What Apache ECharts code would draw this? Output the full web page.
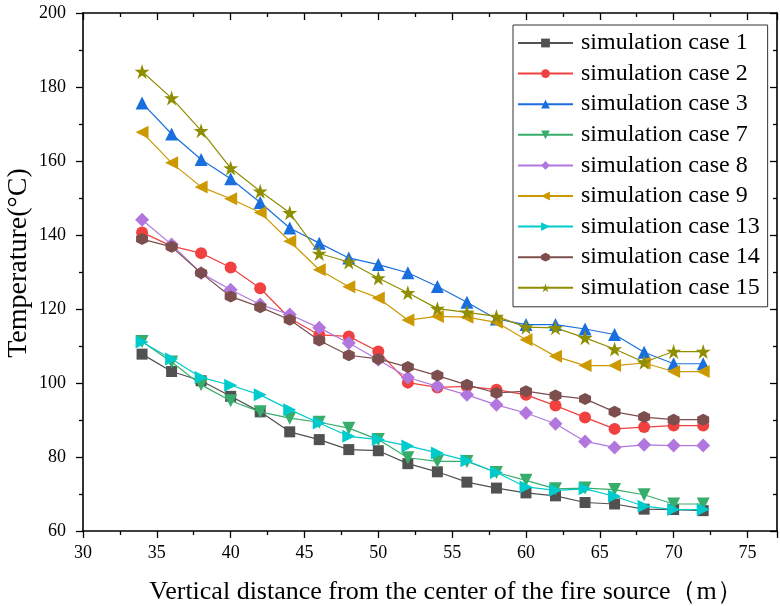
<!DOCTYPE html>
<html>
<head>
<meta charset="utf-8">
<script src="https://cdn.jsdelivr.net/npm/echarts@6/dist/echarts.min.js"></script>
<style>
html,body{margin:0;padding:0;background:#fff;}
#chart{width:780px;height:606px;}
</style>
</head>
<body>
<div id="chart"></div>
<script>
// ---- data ----
var distances = [34,36,38,40,42,44,46,48,50,52,54,56,58,60,62,64,66,68,70,72];
var case1  = [107.8,103.1,100.6,96.4,92.2,86.8,84.7,82.0,81.7,78.2,76.0,73.2,71.6,70.3,69.5,67.7,67.3,65.9,65.8,65.5];
var case2  = [140.7,137.0,135.1,131.2,125.6,117.5,113.0,112.6,108.5,100.1,98.8,99.1,98.2,96.8,93.9,90.7,87.6,88.1,88.5,88.5];
var case3  = [175.7,167.3,160.4,155.2,148.8,141.9,137.8,133.8,132.0,129.8,126.1,121.8,117.3,115.8,115.8,114.6,113.1,108.3,105.2,105.2];
var case7  = [111.2,105.7,99.5,95.2,92.2,90.5,89.4,87.8,84.7,79.8,78.8,78.8,75.8,73.7,71.4,71.6,71.2,69.8,67.3,67.3];
var case8  = [144.1,137.4,129.7,125.2,121.2,118.5,114.9,110.8,106.3,101.5,99.1,96.8,94.1,91.9,89.0,84.2,82.6,83.3,83.1,83.1];
var case9  = [167.8,159.5,153.0,149.8,146.1,138.3,130.6,126.0,123.0,117.0,118.0,117.8,116.4,111.7,107.2,104.7,104.7,105.4,103.1,103.1];
var case13 = [111.1,106.5,101.5,99.4,96.8,92.8,89.2,85.6,84.7,83.0,81.1,79.0,75.8,71.9,71.0,71.4,69.4,66.7,65.8,65.8];
var case14 = [138.9,136.8,129.7,123.4,120.5,117.1,111.5,107.5,106.5,104.3,102.0,99.5,97.3,97.8,96.6,95.7,92.2,90.8,90.1,90.1];
var case15 = [184.2,177.0,168.2,158.1,151.8,146.0,135.0,132.7,128.4,124.4,120.1,119.1,118.0,115.1,114.9,112.2,109.2,105.6,108.5,108.5];
var seriesNames = ['simulation case 1','simulation case 2','simulation case 3','simulation case 7','simulation case 8','simulation case 9','simulation case 13','simulation case 14','simulation case 15'];
var xAxisTitle = 'Vertical distance from the center of the fire source（m）';
var yAxisTitle = 'Temperature(°C)';

// ---- styling ----
var FONT = '"Liberation Serif","Times New Roman",serif';
var HEX = 'path://M0,-1L0.866,-0.5L0.866,0.5L0,1L-0.866,0.5L-0.866,-0.5Z';
var STAR = 'path://M0,-1L0.2245,-0.309L0.951,-0.309L0.363,0.118L0.588,0.809L0,0.382L-0.588,0.809L-0.363,0.118L-0.951,-0.309L-0.2245,-0.309Z';
var styles = [
  {data: case1,  color:'#515151', symbol:'rect',     size:11, rot:0},
  {data: case2,  color:'#F14040', symbol:'circle',   size:12, rot:0},
  {data: case3,  color:'#1A6FDF', symbol:'triangle', size:13, rot:0},
  {data: case7,  color:'#37AD6B', symbol:'triangle', size:13, rot:180},
  {data: case8,  color:'#B177DE', symbol:'diamond',  size:14, rot:0},
  {data: case9,  color:'#CC9900', symbol:'triangle', size:13, rot:90},
  {data: case13, color:'#00CBCC', symbol:'triangle', size:13, rot:-90},
  {data: case14, color:'#7D4E4E', symbol:HEX,        size:12, rot:0},
  {data: case15, color:'#8E8E00', symbol:STAR,       size:15, rot:0}
];

var series = styles.map(function(s, i){
  return {
    name: seriesNames[i],
    type: 'line',
    data: distances.map(function(d, j){ return [d, s.data[j]]; }),
    symbol: s.symbol,
    symbolSize: s.size,
    symbolRotate: s.rot,
    showAllSymbol: true,
    lineStyle: {color: s.color, width: 1.2},
    itemStyle: {color: s.color, opacity: 1},
    emphasis: {disabled: true},
    animation: false,
    z: 2 + i
  };
});

var axisLine = {show: true, onZero: false, lineStyle: {color: '#000', width: 1.6}};
var baseX = {
  type: 'value', min: 30, max: 77, interval: 5,
  splitLine: {show: false},
  axisLine: axisLine,
  minorTick: {show: true, splitNumber: 2, length: 4, lineStyle: {color: '#000', width: 1.3}},
  axisTick: {show: true, length: 7, lineStyle: {color: '#000', width: 1.3}}
};
var baseY = {
  type: 'value', min: 60, max: 200, interval: 20,
  splitLine: {show: false},
  axisLine: axisLine,
  minorTick: {show: true, splitNumber: 2, length: 4, lineStyle: {color: '#000', width: 1.3}},
  axisTick: {show: true, length: 7, lineStyle: {color: '#000', width: 1.3}}
};

var option = {
  backgroundColor: '#fff',
  animation: false,
  textStyle: {fontFamily: FONT},
  grid: {left: 83, top: 13, right: 3, bottom: 75, containLabel: false, outerBoundsMode: 'none'},
  legend: {
    orient: 'vertical',
    left: 513, top: 25,
    itemWidth: 55, itemHeight: 11, itemGap: 6.6,
    padding: [6, 8, 7, 4],
    borderColor: '#333', borderWidth: 1,
    backgroundColor: '#fff',
    textStyle: {fontFamily: FONT, fontSize: 24, lineHeight: 24, color: '#000', padding: [0, 0, 0, 3]},
    data: seriesNames
  },
  xAxis: [
    Object.assign({}, baseX, {
      position: 'bottom',
      name: xAxisTitle, nameLocation: 'middle', nameGap: 48, nameMoveOverlap: false,
      nameTextStyle: {fontFamily: FONT, fontSize: 26, color: '#000', padding: [0, 0, 0, 32]},
      axisLabel: {show: true, fontFamily: FONT, fontSize: 18, color: '#000', margin: 13, showMaxLabel: false}
    }),
    Object.assign({}, baseX, {
      position: 'top',
      axisLabel: {show: false},
      axisTick: {show: true, inside: true, length: 7, lineStyle: {color: '#000', width: 1.3}},
      minorTick: {show: true, splitNumber: 2, length: 4, lineStyle: {color: '#000', width: 1.3}}
    })
  ],
  yAxis: [
    Object.assign({}, baseY, {
      position: 'left',
      name: yAxisTitle, nameLocation: 'middle', nameGap: 50, nameRotate: 90, nameMoveOverlap: false,
      nameTextStyle: {fontFamily: FONT, fontSize: 28, color: '#000', padding: [0, 0, 0, 18]},
      axisLabel: {show: true, fontFamily: FONT, fontSize: 18, color: '#000', margin: 17}
    }),
    Object.assign({}, baseY, {
      position: 'right',
      axisLabel: {show: false},
      axisTick: {show: true, inside: true, length: 7, lineStyle: {color: '#000', width: 1.3}},
      minorTick: {show: true, splitNumber: 2, length: 4, lineStyle: {color: '#000', width: 1.3}}
    })
  ],
  series: series
};

var chart = echarts.init(document.getElementById('chart'), null, {renderer: 'canvas'});
chart.setOption(option);
</script>
</body>
</html>
